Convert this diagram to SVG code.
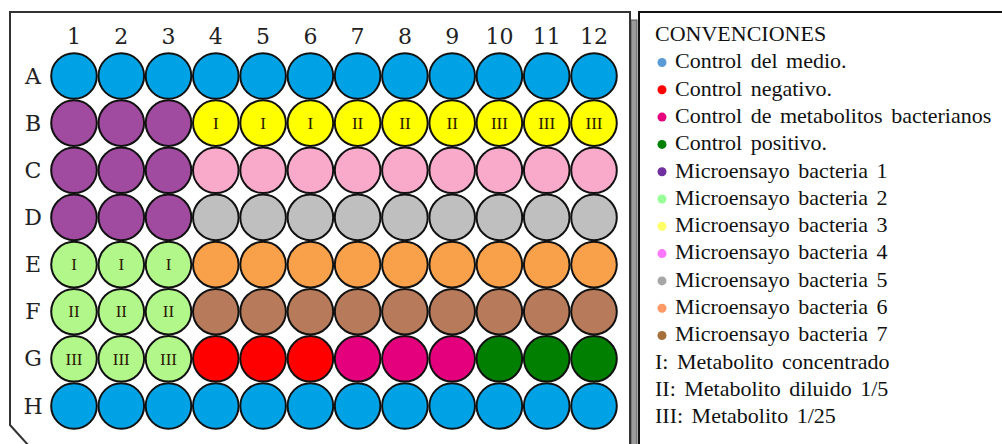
<svg xmlns="http://www.w3.org/2000/svg" width="1002" height="444" viewBox="0 0 1002 444">
<style>
.w{stroke:#111;stroke-width:2}
.bl{fill:#00A2E6}.pu{fill:#A04BA0}.ye{fill:#FFFF00}.pk{fill:#F9AACB}.gy{fill:#BFBFBF}
.or{fill:#F9A04A}.br{fill:#B77A5A}.lg{fill:#B2F78A}.rd{fill:#FF0000}.mg{fill:#E4007C}.dg{fill:#007F00}
.hd{font-family:"DejaVu Serif",serif;font-size:22px;fill:#222;text-anchor:middle}
.rn{font-family:"Liberation Serif",serif;font-size:17px;fill:#2a1a00;text-anchor:middle}
.lt{font-family:"Liberation Serif",serif;font-size:22px;fill:#111;word-spacing:3px}
</style>
<rect width="1002" height="444" fill="#fff"/>
<g id="plate">
<rect x="631" y="20" width="6" height="430" fill="#9a9a9a" stroke="#555" stroke-width="1"/>
<path d="M630 450 V12 H10 V425 L29 446" fill="none" stroke="#333" stroke-width="2"/>
</g>
<g id="col-labels">
<text class="hd" x="74" y="44">1</text><text class="hd" x="121.3" y="44">2</text><text class="hd" x="168.5" y="44">3</text><text class="hd" x="215.8" y="44">4</text><text class="hd" x="263.1" y="44">5</text><text class="hd" x="310.4" y="44">6</text><text class="hd" x="357.6" y="44">7</text><text class="hd" x="404.9" y="44">8</text><text class="hd" x="452.2" y="44">9</text><text class="hd" x="499.4" y="44">10</text><text class="hd" x="546.7" y="44">11</text><text class="hd" x="594" y="44">12</text>
</g>
<g id="row-labels">
<text class="hd" x="33" y="84">A</text><text class="hd" x="33" y="131">B</text><text class="hd" x="33" y="178">C</text><text class="hd" x="33" y="225">D</text><text class="hd" x="33" y="272">E</text><text class="hd" x="33" y="319">F</text><text class="hd" x="33" y="366">G</text><text class="hd" x="33" y="414">H</text>
</g>
<g id="row-A">
<g id="A1"><circle class="w bl" cx="74" cy="76" r="22.8"/></g><g id="A2"><circle class="w bl" cx="121.3" cy="76" r="22.8"/></g><g id="A3"><circle class="w bl" cx="168.5" cy="76" r="22.8"/></g><g id="A4"><circle class="w bl" cx="215.8" cy="76" r="22.8"/></g><g id="A5"><circle class="w bl" cx="263.1" cy="76" r="22.8"/></g><g id="A6"><circle class="w bl" cx="310.4" cy="76" r="22.8"/></g><g id="A7"><circle class="w bl" cx="357.6" cy="76" r="22.8"/></g><g id="A8"><circle class="w bl" cx="404.9" cy="76" r="22.8"/></g><g id="A9"><circle class="w bl" cx="452.2" cy="76" r="22.8"/></g><g id="A10"><circle class="w bl" cx="499.4" cy="76" r="22.8"/></g><g id="A11"><circle class="w bl" cx="546.7" cy="76" r="22.8"/></g><g id="A12"><circle class="w bl" cx="594" cy="76" r="22.8"/></g>
</g>
<g id="row-B">
<g id="B1"><circle class="w pu" cx="74" cy="123.1" r="22.8"/></g><g id="B2"><circle class="w pu" cx="121.3" cy="123.1" r="22.8"/></g><g id="B3"><circle class="w pu" cx="168.5" cy="123.1" r="22.8"/></g>
<g id="B4"><circle class="w ye" cx="215.8" cy="123.1" r="22.8"/><text class="rn" x="215.8" y="128.8">I</text></g>
<g id="B5"><circle class="w ye" cx="263.1" cy="123.1" r="22.8"/><text class="rn" x="263.1" y="128.8">I</text></g>
<g id="B6"><circle class="w ye" cx="310.4" cy="123.1" r="22.8"/><text class="rn" x="310.4" y="128.8">I</text></g>
<g id="B7"><circle class="w ye" cx="357.6" cy="123.1" r="22.8"/><text class="rn" x="357.6" y="128.8">II</text></g>
<g id="B8"><circle class="w ye" cx="404.9" cy="123.1" r="22.8"/><text class="rn" x="404.9" y="128.8">II</text></g>
<g id="B9"><circle class="w ye" cx="452.2" cy="123.1" r="22.8"/><text class="rn" x="452.2" y="128.8">II</text></g>
<g id="B10"><circle class="w ye" cx="499.4" cy="123.1" r="22.8"/><text class="rn" x="499.4" y="128.8">III</text></g>
<g id="B11"><circle class="w ye" cx="546.7" cy="123.1" r="22.8"/><text class="rn" x="546.7" y="128.8">III</text></g>
<g id="B12"><circle class="w ye" cx="594" cy="123.1" r="22.8"/><text class="rn" x="594" y="128.8">III</text></g>
</g>
<g id="row-C">
<g id="C1"><circle class="w pu" cx="74" cy="170.3" r="22.8"/></g><g id="C2"><circle class="w pu" cx="121.3" cy="170.3" r="22.8"/></g><g id="C3"><circle class="w pu" cx="168.5" cy="170.3" r="22.8"/></g>
<g id="C4"><circle class="w pk" cx="215.8" cy="170.3" r="22.8"/></g><g id="C5"><circle class="w pk" cx="263.1" cy="170.3" r="22.8"/></g><g id="C6"><circle class="w pk" cx="310.4" cy="170.3" r="22.8"/></g><g id="C7"><circle class="w pk" cx="357.6" cy="170.3" r="22.8"/></g><g id="C8"><circle class="w pk" cx="404.9" cy="170.3" r="22.8"/></g><g id="C9"><circle class="w pk" cx="452.2" cy="170.3" r="22.8"/></g><g id="C10"><circle class="w pk" cx="499.4" cy="170.3" r="22.8"/></g><g id="C11"><circle class="w pk" cx="546.7" cy="170.3" r="22.8"/></g><g id="C12"><circle class="w pk" cx="594" cy="170.3" r="22.8"/></g>
</g>
<g id="row-D">
<g id="D1"><circle class="w pu" cx="74" cy="217.4" r="22.8"/></g><g id="D2"><circle class="w pu" cx="121.3" cy="217.4" r="22.8"/></g><g id="D3"><circle class="w pu" cx="168.5" cy="217.4" r="22.8"/></g>
<g id="D4"><circle class="w gy" cx="215.8" cy="217.4" r="22.8"/></g><g id="D5"><circle class="w gy" cx="263.1" cy="217.4" r="22.8"/></g><g id="D6"><circle class="w gy" cx="310.4" cy="217.4" r="22.8"/></g><g id="D7"><circle class="w gy" cx="357.6" cy="217.4" r="22.8"/></g><g id="D8"><circle class="w gy" cx="404.9" cy="217.4" r="22.8"/></g><g id="D9"><circle class="w gy" cx="452.2" cy="217.4" r="22.8"/></g><g id="D10"><circle class="w gy" cx="499.4" cy="217.4" r="22.8"/></g><g id="D11"><circle class="w gy" cx="546.7" cy="217.4" r="22.8"/></g><g id="D12"><circle class="w gy" cx="594" cy="217.4" r="22.8"/></g>
</g>
<g id="row-E">
<g id="E1"><circle class="w lg" cx="74" cy="264.6" r="22.8"/><text class="rn" x="74" y="270.3">I</text></g>
<g id="E2"><circle class="w lg" cx="121.3" cy="264.6" r="22.8"/><text class="rn" x="121.3" y="270.3">I</text></g>
<g id="E3"><circle class="w lg" cx="168.5" cy="264.6" r="22.8"/><text class="rn" x="168.5" y="270.3">I</text></g>
<g id="E4"><circle class="w or" cx="215.8" cy="264.6" r="22.8"/></g><g id="E5"><circle class="w or" cx="263.1" cy="264.6" r="22.8"/></g><g id="E6"><circle class="w or" cx="310.4" cy="264.6" r="22.8"/></g><g id="E7"><circle class="w or" cx="357.6" cy="264.6" r="22.8"/></g><g id="E8"><circle class="w or" cx="404.9" cy="264.6" r="22.8"/></g><g id="E9"><circle class="w or" cx="452.2" cy="264.6" r="22.8"/></g><g id="E10"><circle class="w or" cx="499.4" cy="264.6" r="22.8"/></g><g id="E11"><circle class="w or" cx="546.7" cy="264.6" r="22.8"/></g><g id="E12"><circle class="w or" cx="594" cy="264.6" r="22.8"/></g>
</g>
<g id="row-F">
<g id="F1"><circle class="w lg" cx="74" cy="311.7" r="22.8"/><text class="rn" x="74" y="317.4">II</text></g>
<g id="F2"><circle class="w lg" cx="121.3" cy="311.7" r="22.8"/><text class="rn" x="121.3" y="317.4">II</text></g>
<g id="F3"><circle class="w lg" cx="168.5" cy="311.7" r="22.8"/><text class="rn" x="168.5" y="317.4">II</text></g>
<g id="F4"><circle class="w br" cx="215.8" cy="311.7" r="22.8"/></g><g id="F5"><circle class="w br" cx="263.1" cy="311.7" r="22.8"/></g><g id="F6"><circle class="w br" cx="310.4" cy="311.7" r="22.8"/></g><g id="F7"><circle class="w br" cx="357.6" cy="311.7" r="22.8"/></g><g id="F8"><circle class="w br" cx="404.9" cy="311.7" r="22.8"/></g><g id="F9"><circle class="w br" cx="452.2" cy="311.7" r="22.8"/></g><g id="F10"><circle class="w br" cx="499.4" cy="311.7" r="22.8"/></g><g id="F11"><circle class="w br" cx="546.7" cy="311.7" r="22.8"/></g><g id="F12"><circle class="w br" cx="594" cy="311.7" r="22.8"/></g>
</g>
<g id="row-G">
<g id="G1"><circle class="w lg" cx="74" cy="358.8" r="22.8"/><text class="rn" x="74" y="364.5">III</text></g>
<g id="G2"><circle class="w lg" cx="121.3" cy="358.8" r="22.8"/><text class="rn" x="121.3" y="364.5">III</text></g>
<g id="G3"><circle class="w lg" cx="168.5" cy="358.8" r="22.8"/><text class="rn" x="168.5" y="364.5">III</text></g>
<g id="G4"><circle class="w rd" cx="215.8" cy="358.8" r="22.8"/></g><g id="G5"><circle class="w rd" cx="263.1" cy="358.8" r="22.8"/></g><g id="G6"><circle class="w rd" cx="310.4" cy="358.8" r="22.8"/></g>
<g id="G7"><circle class="w mg" cx="357.6" cy="358.8" r="22.8"/></g><g id="G8"><circle class="w mg" cx="404.9" cy="358.8" r="22.8"/></g><g id="G9"><circle class="w mg" cx="452.2" cy="358.8" r="22.8"/></g>
<g id="G10"><circle class="w dg" cx="499.4" cy="358.8" r="22.8"/></g><g id="G11"><circle class="w dg" cx="546.7" cy="358.8" r="22.8"/></g><g id="G12"><circle class="w dg" cx="594" cy="358.8" r="22.8"/></g>
</g>
<g id="row-H">
<g id="H1"><circle class="w bl" cx="74" cy="406" r="22.8"/></g><g id="H2"><circle class="w bl" cx="121.3" cy="406" r="22.8"/></g><g id="H3"><circle class="w bl" cx="168.5" cy="406" r="22.8"/></g><g id="H4"><circle class="w bl" cx="215.8" cy="406" r="22.8"/></g><g id="H5"><circle class="w bl" cx="263.1" cy="406" r="22.8"/></g><g id="H6"><circle class="w bl" cx="310.4" cy="406" r="22.8"/></g><g id="H7"><circle class="w bl" cx="357.6" cy="406" r="22.8"/></g><g id="H8"><circle class="w bl" cx="404.9" cy="406" r="22.8"/></g><g id="H9"><circle class="w bl" cx="452.2" cy="406" r="22.8"/></g><g id="H10"><circle class="w bl" cx="499.4" cy="406" r="22.8"/></g><g id="H11"><circle class="w bl" cx="546.7" cy="406" r="22.8"/></g><g id="H12"><circle class="w bl" cx="594" cy="406" r="22.8"/></g>
</g>
<g id="legend">
<rect x="639" y="12" width="400" height="460" fill="#fff" stroke="#111" stroke-width="2"/>
<text class="lt" x="655" y="41">CONVENCIONES</text>
<circle cx="662" cy="62.5" r="4.5" fill="#5B9BD5"/><text class="lt" x="675" y="68.3">Control del medio.</text>
<circle cx="662" cy="89.8" r="4.5" fill="#FF0000"/><text class="lt" x="675" y="95.6">Control negativo.</text>
<circle cx="662" cy="117.1" r="4.5" fill="#E6007E"/><text class="lt" x="675" y="122.9">Control de metabolitos bacterianos</text>
<circle cx="662" cy="144.4" r="4.5" fill="#008000"/><text class="lt" x="675" y="150.2">Control positivo.</text>
<circle cx="662" cy="171.7" r="4.5" fill="#7030A0"/><text class="lt" x="675" y="177.5">Microensayo bacteria 1</text>
<circle cx="662" cy="199" r="4.5" fill="#99FF99"/><text class="lt" x="675" y="204.8">Microensayo bacteria 2</text>
<circle cx="662" cy="226.3" r="4.5" fill="#FFFF66"/><text class="lt" x="675" y="232.1">Microensayo bacteria 3</text>
<circle cx="662" cy="253.6" r="4.5" fill="#FF77FF"/><text class="lt" x="675" y="259.4">Microensayo bacteria 4</text>
<circle cx="662" cy="280.9" r="4.5" fill="#A6A6A6"/><text class="lt" x="675" y="286.7">Microensayo bacteria 5</text>
<circle cx="662" cy="308.2" r="4.5" fill="#FF9966"/><text class="lt" x="675" y="314">Microensayo bacteria 6</text>
<circle cx="662" cy="335.5" r="4.5" fill="#A5703A"/><text class="lt" x="675" y="341.3">Microensayo bacteria 7</text>
<text class="lt" x="655" y="368.6">I: Metabolito concentrado</text>
<text class="lt" x="655" y="395.9">II: Metabolito diluido 1/5</text>
<text class="lt" x="655" y="423.2">III:  Metabolito 1/25</text>
</g>
</svg>
